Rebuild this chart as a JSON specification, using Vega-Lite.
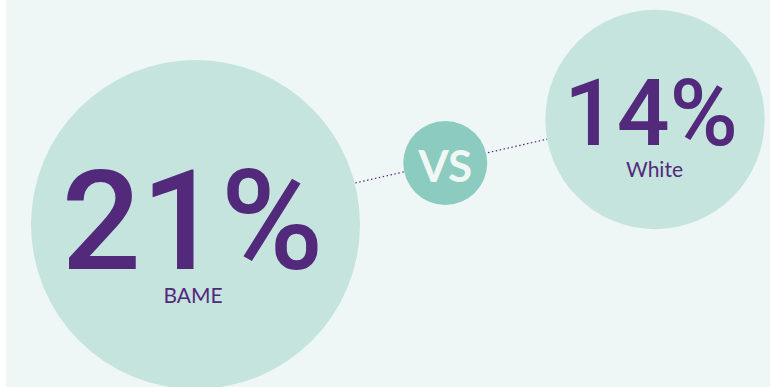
{
  "$schema": "https://vega.github.io/schema/vega-lite/v6.json",
  "width": 764,
  "height": 387,
  "autosize": {"type": "none"},
  "padding": {"left": 6, "right": 0, "top": 0, "bottom": 0},
  "background": "#ffffff",
  "config": {"view": {"fill": "#eef7f5", "stroke": null}},
  "data": {"values": [
    {"group": "BAME", "value": 21, "label": "21%"},
    {"group": "White", "value": 14, "label": "14%"}
  ]},
  "encoding": {
    "x": {"field": "group", "type": "nominal", "axis": null,
      "scale": {"type": "point", "domain": ["BAME", "VS", "White"], "range": [189.5, 649], "padding": 0}},
    "y": {"field": "group", "type": "nominal", "axis": null,
      "scale": {"type": "point", "domain": ["BAME", "VS", "White"], "range": [224.5, 119.5], "padding": 0}}
  },
  "layer": [
    {
      "mark": {"type": "line", "stroke": "#52297b", "strokeWidth": 1.2, "strokeDash": [1.5, 2.5], "yOffset": -5},
      "encoding": {}
    },
    {
      "mark": {"type": "circle", "color": "#c5e4de", "opacity": 1},
      "encoding": {
        "size": {"field": "value", "type": "quantitative", "legend": null,
          "scale": {"type": "pow", "exponent": 2, "domain": [0, 21], "range": [0, 108241]}}
      }
    },
    {
      "data": {"values": [{"group": "VS", "label": "VS"}]},
      "mark": {"type": "circle", "color": "#8bcbc0", "opacity": 1, "size": 7056, "xOffset": 20, "yOffset": -9}
    },
    {
      "data": {"values": [{"group": "VS", "label": "VS"}]},
      "mark": {"type": "text", "font": "Lato", "fontWeight": "bold", "fontSize": 44, "color": "#f0f7f5", "align": "center", "baseline": "alphabetic", "dx": 20, "dy": 10},
      "encoding": {"text": {"field": "label"}}
    },
    {
      "transform": [{"filter": "datum.group === 'BAME'"}],
      "mark": {"type": "text", "font": "Roboto", "fontWeight": 500, "fontSize": 140, "color": "#52297b", "align": "center", "baseline": "alphabetic", "dx": -3, "dy": 44.5},
      "encoding": {"text": {"field": "label"}}
    },
    {
      "transform": [{"filter": "datum.group === 'White'"}],
      "mark": {"type": "text", "font": "Roboto", "fontWeight": 500, "fontSize": 93, "color": "#52297b", "align": "center", "baseline": "alphabetic", "dx": -4, "dy": 25.5},
      "encoding": {"text": {"field": "label"}}
    },
    {
      "transform": [{"filter": "datum.group === 'BAME'"}],
      "mark": {"type": "text", "font": "Lato", "fontSize": 21, "color": "#52297b", "align": "center", "baseline": "alphabetic", "dx": -2.5, "dy": 78.5},
      "encoding": {"text": {"field": "group"}}
    },
    {
      "transform": [{"filter": "datum.group === 'White'"}],
      "mark": {"type": "text", "font": "Lato", "fontSize": 21, "color": "#52297b", "align": "center", "baseline": "alphabetic", "dx": -0.5, "dy": 57.5},
      "encoding": {"text": {"field": "group"}}
    }
  ]
}
